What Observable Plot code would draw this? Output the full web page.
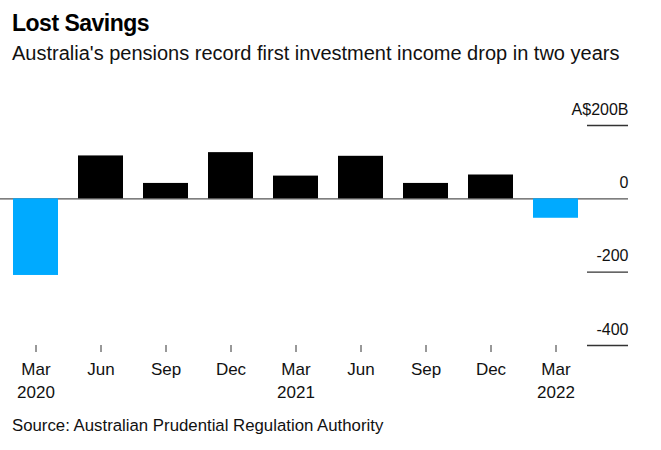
<!DOCTYPE html>
<html>
<head>
<meta charset="utf-8">
<script src="https://cdn.jsdelivr.net/npm/d3@7"></script>
<script src="https://cdn.jsdelivr.net/npm/@observablehq/plot@0.6"></script>
<style>
  html, body { margin: 0; padding: 0; background: #fff; }
  body { width: 661px; height: 450px; position: relative; overflow: hidden; font-family: "Liberation Sans", Arial, sans-serif; color: #000; }
  #title { position: absolute; left: 12px; top: 8px; font-size: 23px; font-weight: bold; letter-spacing: -0.5px; line-height: 30px; white-space: nowrap; }
  #subtitle { position: absolute; left: 12px; top: 41px; font-size: 20px; line-height: 24px; white-space: nowrap; color: #111; }
  #chart { position: absolute; left: 0; top: 80px; }
  #source { position: absolute; left: 12px; top: 416px; font-size: 16.8px; line-height: 20px; white-space: nowrap; color: #111; }
</style>
</head>
<body>
<div id="title">Lost Savings</div>
<div id="subtitle">Australia's pensions record first investment income drop in two years</div>
<div id="chart"></div>
<div id="source">Source: Australian Prudential Regulation Authority</div>
<script>
const quarters = ["Mar 2020","Jun 2020","Sep 2020","Dec 2020","Mar 2021","Jun 2021","Sep 2021","Dec 2021","Mar 2022"];
const values = [-209, 117, 42, 126, 62, 116, 42, 65, -53];
const xTickLabels = ["Mar\n2020","Jun","Sep","Dec","Mar\n2021","Jun","Sep","Dec","Mar\n2022"];
const yTicks = [200, 0, -200, -400];
const yTickLabels = ["A$200B", "0", "-200", "-400"];

const data = quarters.map((q, i) => ({quarter: q, value: values[i]}));
const xLabel = new Map(quarters.map((q, i) => [q, xTickLabels[i]]));
const yLabel = new Map(yTicks.map((t, i) => [t, yTickLabels[i]]));

const chart = Plot.plot({
  width: 661,
  height: 330,
  marginTop: 45,
  marginBottom: 65,
  marginLeft: 0,
  marginRight: 33,
  style: {fontFamily: "'Liberation Sans', Arial, sans-serif", color: "#111", background: "#fff"},
  x: {domain: quarters, range: [2.3, 588], paddingInner: 0.3077, paddingOuter: 0.1538, label: null},
  y: {domain: [-400, 200], label: null},
  color: {domain: ["neg", "pos"], range: ["#00aaff", "#000000"]},
  marks: [
    Plot.ruleY(yTicks.filter(t => t !== 0), {insetLeft: 587, stroke: "#333", strokeWidth: 1.3}),
    Plot.ruleY([0], {stroke: "#555", strokeWidth: 1.3}),
    Plot.barY(data, {x: "quarter", y: "value", fill: d => d.value < 0 ? "neg" : "pos"}),
    Plot.axisX({tickSize: 7, tickPadding: 6, fontSize: 17, lineHeight: 1.37, stroke: "#333", tickFormat: d => xLabel.get(d)}),
    Plot.axisY({anchor: "right", ticks: yTicks, tickSize: 0, tickPadding: 0, textAnchor: "end", lineAnchor: "bottom", dy: -11, fontSize: 16, tickFormat: d => yLabel.get(d)})
  ]
});
document.getElementById("chart").appendChild(chart);
</script>
</body>
</html>
